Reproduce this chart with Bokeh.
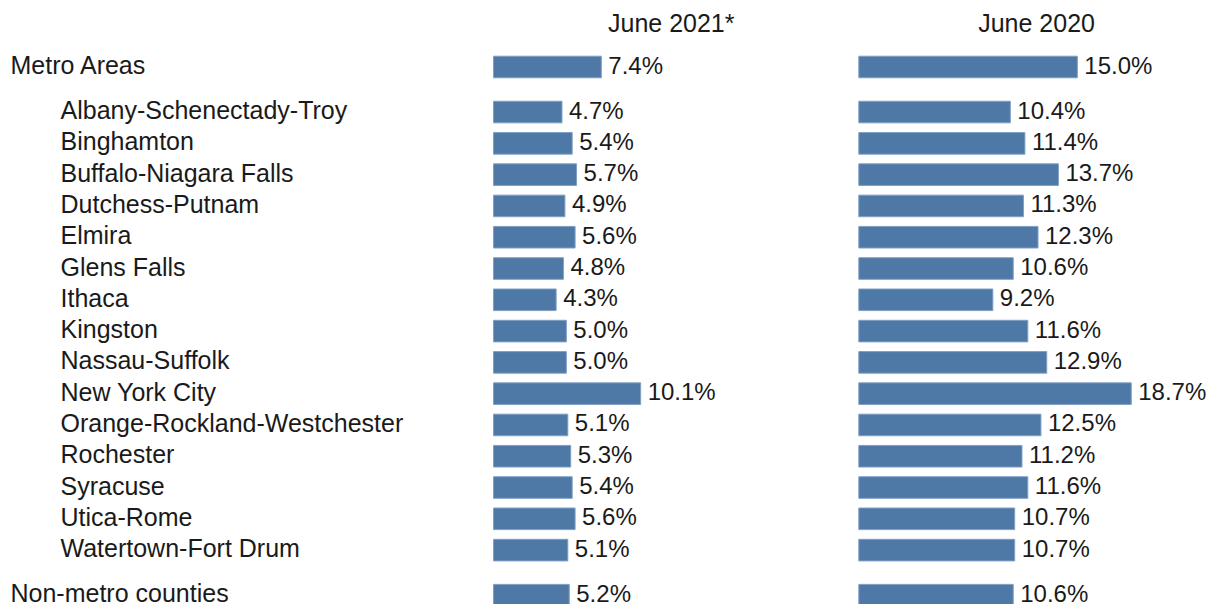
from bokeh.plotting import figure
from bokeh.models import ColumnDataSource, Range1d
from bokeh.embed import file_html
from bokeh.resources import INLINE
from bokeh.core.properties import value

# ---- data ----
categories = ["Metro Areas", "Albany-Schenectady-Troy", "Binghamton", "Buffalo-Niagara Falls",
              "Dutchess-Putnam", "Elmira", "Glens Falls", "Ithaca", "Kingston", "Nassau-Suffolk",
              "New York City", "Orange-Rockland-Westchester", "Rochester", "Syracuse",
              "Utica-Rome", "Watertown-Fort Drum", "Non-metro counties"]
indent = [0] + [1] * 15 + [0]
june_2021 = [7.4, 4.7, 5.4, 5.7, 4.9, 5.6, 4.8, 4.3, 5.0, 5.0, 10.1, 5.1, 5.3, 5.4, 5.6, 5.1, 5.2]
june_2020 = [15.0, 10.4, 11.4, 13.7, 11.3, 12.3, 10.6, 9.2, 11.6, 12.9, 18.7, 12.5, 11.2, 11.6, 10.7, 10.7, 10.6]
series_titles = ["June 2021*", "June 2020"]

# ---- layout ----
W, H = 1215, 604
PX_PER_PCT = 14.57
ROW_PX = 31.29
GAP = 1.44
x_start = -493 / PX_PER_PCT
x_end = (W - 493) / PX_PER_PCT
panel_offsets = [0.0, 365.3 / PX_PER_PCT]
y_top = -66.5 / ROW_PX
y_bottom = (H - 66.5) / ROW_PX

ypos = []
for i, c in enumerate(categories):
    if i == 0:
        ypos.append(0.0)
    elif i == len(categories) - 1:
        ypos.append(2 * GAP + 14)
    else:
        ypos.append(GAP + (i - 1))

label_x = [x_start + (10 if ind == 0 else 60) / PX_PER_PCT for ind in indent]

p = figure(width=W, height=H, output_backend="svg", toolbar_location=None,
           x_range=Range1d(x_start, x_end), y_range=Range1d(y_bottom, y_top),
           min_border=0, outline_line_color=None)
p.axis.visible = False
p.grid.visible = False
p.background_fill_color = "white"
p.border_fill_color = "white"

FONT = value("Liberation Sans")
TEXT_COLOR = "#1a1a1a"
BAR_COLOR = "#4e79a7"

src_lab = ColumnDataSource(dict(x=label_x, y=ypos, t=categories))
p.text(x="x", y="y", text="t", source=src_lab, y_offset=-2, text_font=FONT,
       text_font_size="25px", text_baseline="middle", text_align="left",
       text_color=TEXT_COLOR)

for off, vals, title in zip(panel_offsets, [june_2021, june_2020], series_titles):
    src = ColumnDataSource(dict(
        left=[off] * len(vals),
        right=[off + v for v in vals],
        y=ypos,
        lbl=[f"{v:.1f}%" for v in vals],
    ))
    p.hbar(y="y", left="left", right="right", height=0.69, source=src,
           fill_color=BAR_COLOR, line_color="#7f9fc4", line_width=1)
    p.text(x="right", y="y", text="lbl", source=src, x_offset=7, y_offset=-2,
           text_font=FONT, text_font_size="24px", text_baseline="middle",
           text_align="left", text_color=TEXT_COLOR)
    p.text(x=[off + 12.2], y=[y_top + 22 / ROW_PX], text=[title], text_font=FONT,
           text_font_size="25px", text_baseline="middle", text_align="center",
           text_color=TEXT_COLOR)

open("out.html", "w").write(file_html(p, INLINE))
